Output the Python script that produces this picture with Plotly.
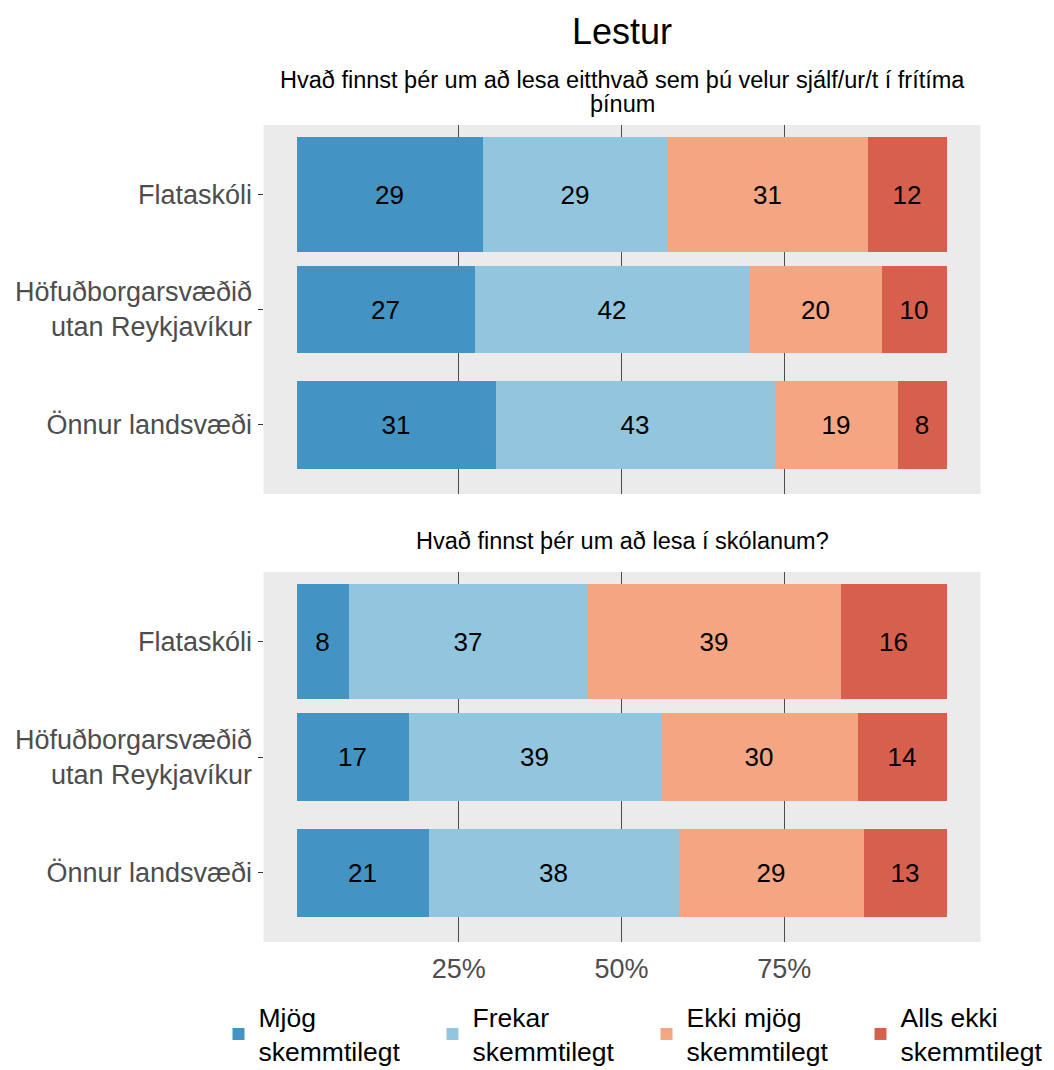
import plotly.graph_objects as go
from plotly.subplots import make_subplots

# categories and answers
regions = ["Flataskóli", "Höfuðborgarsvæðið<br>utan Reykjavíkur", "Önnur landsvæði"]
answers = ["Mjög<br>skemmtilegt", "Frekar<br>skemmtilegt", "Ekki mjög<br>skemmtilegt", "Alls ekki<br>skemmtilegt"]
colors = ["#4393C3", "#92C5DE", "#F4A582", "#D6604D"]
bar_widths = [1.0, 0.76, 0.76]

title = "Lestur"
q1_title = ["Hvað finnst þér um að lesa eitthvað sem þú velur sjálf/ur/t í frítíma", "þínum"]
q2_title = "Hvað finnst þér um að lesa í skólanum?"

# shares per answer (rows = answers, columns = regions)
q1_share = [
    [0.286, 0.274, 0.307],
    [0.285, 0.422, 0.428],
    [0.307, 0.203, 0.189],
    [0.122, 0.101, 0.076],
]
q1_labels = [
    ["29", "27", "31"],
    ["29", "42", "43"],
    ["31", "20", "19"],
    ["12", "10", "8"],
]
q2_share = [
    [0.081, 0.172, 0.204],
    [0.366, 0.388, 0.383],
    [0.389, 0.303, 0.284],
    [0.164, 0.137, 0.129],
]
q2_labels = [
    ["8", "17", "21"],
    ["37", "39", "38"],
    ["39", "30", "29"],
    ["16", "14", "13"],
]

FONT = "Liberation Sans, Arial, sans-serif"
W, H = 1054, 1070
OFF_X, OFF_Y = 6.5, 8  # page margin the browser adds around the figure


def py(y):
    # pixel row in the target picture -> paper fraction
    return 1 - (y - OFF_Y) / H


def px(x):
    return (x - OFF_X) / W


fig = make_subplots(rows=2, cols=1)

for row, share, labels in [(1, q1_share, q1_labels), (2, q2_share, q2_labels)]:
    for i, ans in enumerate(answers):
        fig.add_trace(go.Bar(
            y=regions, x=share[i], orientation="h", width=bar_widths,
            name=ans, marker=dict(color=colors[i], line=dict(width=0)),
            text=labels[i], textposition="inside", insidetextanchor="middle",
            textangle=0, constraintext="none",
            textfont=dict(color="black", size=26, family=FONT),
            showlegend=(row == 1), legendgroup=ans, hoverinfo="skip",
        ), row=row, col=1)

x0, x1 = px(262), px(979)
xc = (x0 + x1) / 2
panel_bg = "#EBEBEB"

fig.update_layout(
    width=W, height=H, barmode="stack", bargap=0,
    paper_bgcolor="white", plot_bgcolor=panel_bg,
    margin=dict(l=0, r=0, t=0, b=0, autoexpand=False),
    font=dict(family=FONT),
    legend=dict(orientation="h", x=px(217), xanchor="left", y=py(1034), yanchor="middle",
                font=dict(size=26.5, color="black"), traceorder="normal",
                itemwidth=30, entrywidth=169, tracegroupgap=0),
)

for ax, top, bot in [("yaxis", 125, 494), ("yaxis2", 572, 942)]:
    fig.layout[ax].update(
        domain=[py(bot), py(top)], range=[2.6, -0.6], automargin=False, showgrid=False,
        ticks="outside", ticklen=5, tickcolor="#333333", tickwidth=1.2,
        tickfont=dict(size=27, color="#4D4D4D"), zeroline=False,
    )
for ax in ["xaxis", "xaxis2"]:
    fig.layout[ax].update(
        domain=[x0, x1], range=[-0.05, 1.0515], automargin=False,
        tickvals=[0.25, 0.5, 0.75], ticktext=["25%", "50%", "75%"],
        showgrid=True, gridcolor="#4D4D4D", gridwidth=1, zeroline=False,
        tickfont=dict(size=27, color="#4D4D4D"), ticklabelstandoff=8,
    )
fig.layout.xaxis.showticklabels = False

fig.add_annotation(text=title, x=xc, y=py(31), xref="paper", yref="paper",
                   showarrow=False, font=dict(size=36, color="black"), yanchor="middle")
for line, yy in zip(q1_title, [80, 104]):
    fig.add_annotation(text=line, x=xc, y=py(yy), xref="paper", yref="paper",
                       showarrow=False, font=dict(size=23.5, color="black"), yanchor="middle")
fig.add_annotation(text=q2_title, x=xc, y=py(541), xref="paper", yref="paper",
                   showarrow=False, font=dict(size=23.5, color="black"), yanchor="middle")

fig.write_html("out.html")
